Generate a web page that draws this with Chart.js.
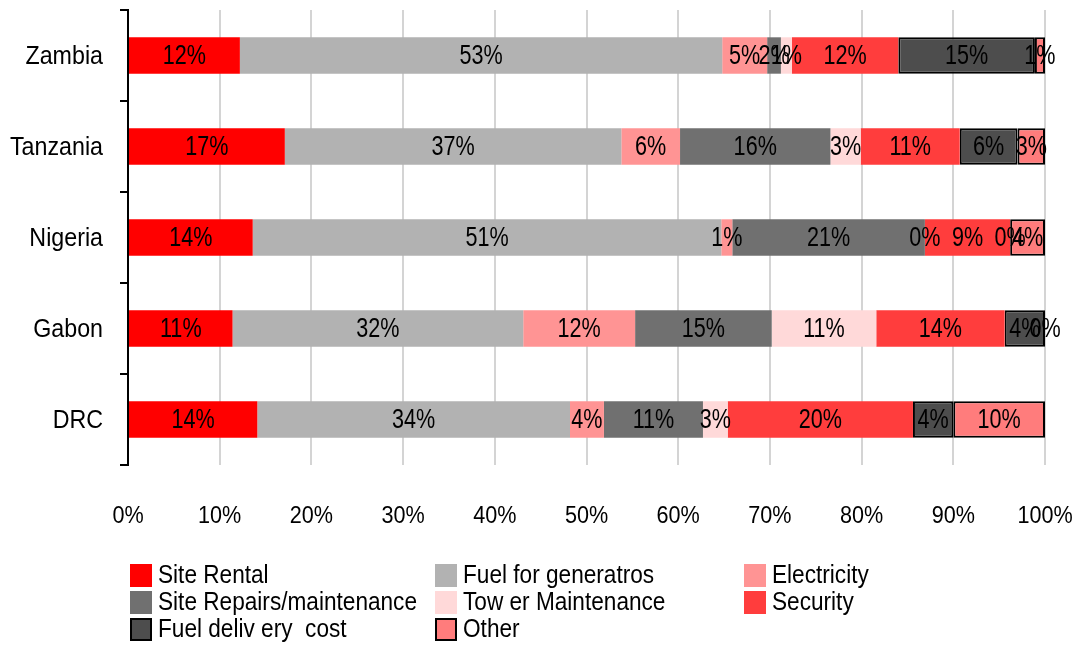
<!DOCTYPE html>
<html>
<head>
<meta charset="utf-8">
<script src="https://cdn.jsdelivr.net/npm/chart.js@4/dist/chart.umd.min.js"></script>
<style>
  html, body { margin: 0; padding: 0; background: #ffffff; }
  #wrap { width: 1078px; height: 647px; }
</style>
</head>
<body>
<div id="wrap"><canvas id="c" width="1078" height="647"></canvas></div>
<script>
// Site cost breakdown per country (share of total, %)
const categories = ['Zambia', 'Tanzania', 'Nigeria', 'Gabon', 'DRC'];
const seriesNames = ['Site Rental', 'Fuel for generatros', 'Electricity', 'Site Repairs/maintenance',
                     'Tow er Maintenance', 'Security', 'Fuel deliv ery  cost', 'Other'];
const siteRental       = [12.2, 17.1, 13.6, 11.4, 14.1];
const fuelGenerators   = [52.6, 36.7, 51.1, 31.7, 34.1];
const electricity      = [4.9, 6.4, 1.2, 12.2, 3.7];
const siteRepairs      = [1.5, 16.4, 21.0, 14.9, 10.8];
const towerMaintenance = [1.2, 3.3, 0, 11.4, 2.7];
const security         = [11.6, 10.8, 9.3, 14.0, 20.2];
const fuelDelivery     = [14.9, 6.3, 0, 4.4, 4.4];
const other            = [1.1, 3.0, 3.8, 0, 10.0];
const xTickValues = [0, 10, 20, 30, 40, 50, 60, 70, 80, 90, 100];

const FONT = '"Liberation Sans", Arial, sans-serif';

const seriesData = [siteRental, fuelGenerators, electricity, siteRepairs,
                    towerMaintenance, security, fuelDelivery, other];
const colors = ['#ff0000', '#b2b2b2', '#ff9494', '#707070', '#ffd9d9', '#ff3d3d', '#4d4d4d', '#ff7c7c'];
const outlined = [false, false, false, false, false, false, true, true];

const datasets = seriesData.map((d, i) => ({
  label: seriesNames[i],
  data: d,
  backgroundColor: colors[i],
  borderColor: '#000000',
  borderWidth: outlined[i] ? 2 : 0,
  borderSkipped: false,
  barPercentage: 0.4,
  categoryPercentage: 1.0
}));

// Text in a horizontally condensed face
function narrowText(ctx, text, x, y, size, squeeze, align) {
  ctx.save();
  ctx.font = size + 'px ' + FONT;
  ctx.textBaseline = 'alphabetic';
  ctx.textAlign = align;
  ctx.translate(x, y);
  ctx.scale(squeeze, 1);
  ctx.fillText(text, 0, 0);
  ctx.restore();
}

// Percent labels centred in every segment
const segmentLabels = {
  id: 'segmentLabels',
  afterDatasetsDraw(chart) {
    const ctx = chart.ctx;
    ctx.fillStyle = '#000000';
    chart.data.datasets.forEach((ds, di) => {
      const meta = chart.getDatasetMeta(di);
      meta.data.forEach((el, i) => {
        const cx = (el.x + el.base) / 2;
        narrowText(ctx, Math.round(ds.data[i]) + '%', cx, el.y + 8, 27, 0.80, 'center');
      });
    });
  }
};

// Axis tick labels placed from the scales
const axisLabels = {
  id: 'axisLabels',
  afterDraw(chart) {
    const ctx = chart.ctx;
    ctx.fillStyle = '#000000';
    const xs = chart.scales.x, ys = chart.scales.y;
    xs.ticks.forEach(t => {
      narrowText(ctx, t.value + '%', xs.getPixelForValue(t.value), xs.top + 57.5, 24, 0.90, 'center');
    });
    ys.ticks.forEach(t => {
      narrowText(ctx, ys.getLabelForValue(t.value), ys.right - 25, ys.getPixelForValue(t.value) + 8, 25, 0.93, 'right');
    });
  }
};

// Three-column legend under the axis
const gridLegend = {
  id: 'gridLegend',
  afterDraw(chart) {
    const ctx = chart.ctx;
    const colX = [130, 435, 744];
    const rowBase = [583, 610, 637];
    chart.data.datasets.forEach((ds, i) => {
      const x = colX[i % 3];
      const y = rowBase[Math.floor(i / 3)];
      ctx.save();
      ctx.fillStyle = ds.backgroundColor;
      ctx.fillRect(x, y - 19, 22, 23);
      if (ds.borderWidth > 0) {
        ctx.strokeStyle = '#000000';
        ctx.lineWidth = 2;
        ctx.strokeRect(x + 1, y - 18, 20, 21);
      }
      ctx.restore();
      ctx.fillStyle = '#000000';
      narrowText(ctx, ds.label, x + 28, y, 26, 0.87, 'left');
    });
  }
};

new Chart(document.getElementById('c'), {
  type: 'bar',
  data: { labels: categories, datasets },
  options: {
    indexAxis: 'y',
    responsive: false,
    animation: false,
    devicePixelRatio: 1,
    layout: { padding: { left: 0, right: 33, top: 10, bottom: 114 } },
    plugins: {
      legend: { display: false },
      tooltip: { enabled: false }
    },
    scales: {
      x: {
        stacked: true,
        min: 0,
        max: 100,
        afterBuildTicks(scale) { scale.ticks = xTickValues.map(v => ({ value: v })); },
        afterFit(scale) { scale.height = 68; scale.paddingLeft = 0; scale.paddingRight = 0; },
        grid: { color: '#d4d4d4', lineWidth: 2, drawTicks: false },
        border: { display: false },
        ticks: { display: false }
      },
      y: {
        stacked: true,
        afterFit(scale) { scale.width = 128; scale.paddingTop = 0; scale.paddingBottom = 0; },
        grid: { drawOnChartArea: false, color: '#000000', lineWidth: 2, tickLength: 8, offset: true },
        border: { color: '#000000', width: 2 },
        ticks: { display: false }
      }
    }
  },
  plugins: [segmentLabels, axisLabels, gridLegend]
});
</script>
</body>
</html>
